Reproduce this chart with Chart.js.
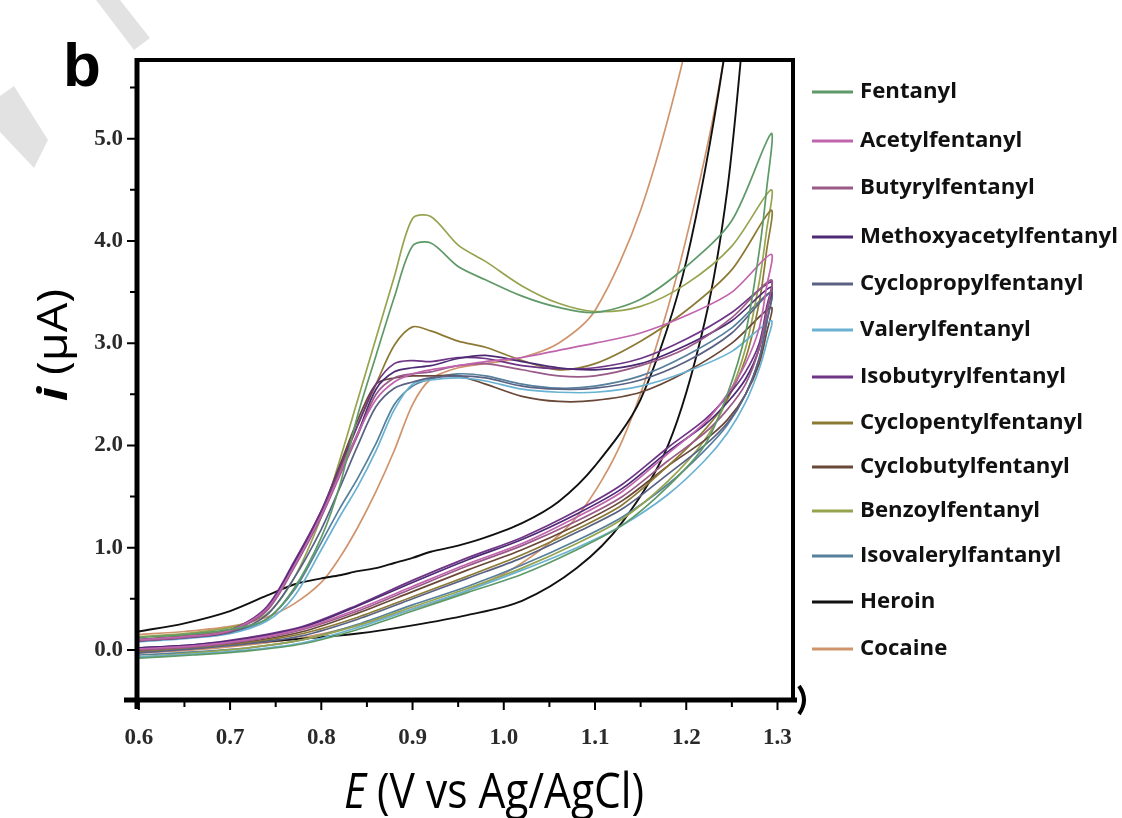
<!DOCTYPE html>
<html>
<head>
<meta charset="utf-8">
<script src="https://cdn.jsdelivr.net/npm/chart.js@4/dist/chart.umd.min.js"></script>
<style>
  html, body { margin: 0; padding: 0; background: #fff; }
  #caja { width: 1122px; height: 818px; }
</style>
</head>
<body>
<div id="caja"><canvas id="graficaCV" width="1122" height="818"></canvas></div>
<script>
// Potenciales (V vs Ag/AgCl) del barrido de ida y de vuelta
const potencialIda = [0.6, 0.65, 0.7, 0.74, 0.77, 0.8, 0.82, 0.84, 0.86, 0.88, 0.9, 0.92, 0.95, 0.98, 1.02, 1.06, 1.1, 1.15, 1.2, 1.25, 1.293];
const potencialVuelta = [1.288, 1.28, 1.265, 1.245, 1.22, 1.18, 1.13, 1.08, 1.02, 0.96, 0.9, 0.84, 0.78, 0.72, 0.66, 0.6];

// Corrientes (µA)
const fentanilIda = [0.12, 0.15, 0.2, 0.3, 0.6, 1.1, 1.6, 2.3, 2.88, 3.45, 3.95, 3.98, 3.75, 3.62, 3.46, 3.35, 3.3, 3.43, 3.75, 4.2, 5.05];
const fentanilVuelta = [4.5, 3.9, 3.1, 2.5, 2.0, 1.6, 1.22, 0.98, 0.74, 0.56, 0.38, 0.2, 0.06, -0.01, -0.05, -0.08];
const acetilIda = [0.1, 0.13, 0.19, 0.4, 0.82, 1.32, 1.72, 2.12, 2.45, 2.62, 2.7, 2.74, 2.78, 2.82, 2.86, 2.93, 3.0, 3.1, 3.27, 3.5, 3.87];
const acetilVuelta = [3.55, 3.15, 2.8, 2.5, 2.22, 1.92, 1.55, 1.3, 1.04, 0.84, 0.62, 0.4, 0.21, 0.1, 0.04, 0.01];
const butirilIda = [0.09, 0.12, 0.18, 0.38, 0.8, 1.3, 1.7, 2.1, 2.5, 2.66, 2.7, 2.72, 2.78, 2.8, 2.74, 2.68, 2.68, 2.78, 2.95, 3.25, 3.62];
const butirilVuelta = [3.3, 2.95, 2.6, 2.35, 2.12, 1.85, 1.5, 1.26, 1.02, 0.82, 0.6, 0.38, 0.2, 0.09, 0.03, 0.0];
const metoxiIda = [0.09, 0.12, 0.18, 0.4, 0.84, 1.33, 1.72, 2.12, 2.55, 2.72, 2.76, 2.78, 2.85, 2.88, 2.82, 2.76, 2.74, 2.8, 2.98, 3.22, 3.55];
const metoxiVuelta = [3.3, 2.95, 2.65, 2.42, 2.2, 1.94, 1.58, 1.33, 1.08, 0.88, 0.66, 0.43, 0.22, 0.11, 0.05, 0.02];
const ciclopropilIda = [0.09, 0.12, 0.17, 0.34, 0.7, 1.18, 1.58, 2.0, 2.38, 2.56, 2.62, 2.66, 2.68, 2.66, 2.58, 2.55, 2.56, 2.64, 2.82, 3.1, 3.5];
const ciclopropilVuelta = [3.2, 2.85, 2.5, 2.22, 2.0, 1.72, 1.38, 1.15, 0.9, 0.7, 0.5, 0.3, 0.14, 0.06, 0.01, -0.03];
const valerilIda = [0.08, 0.11, 0.16, 0.28, 0.52, 0.98, 1.3, 1.6, 1.95, 2.35, 2.6, 2.64, 2.66, 2.63, 2.55, 2.52, 2.52, 2.58, 2.72, 2.92, 3.22];
const valerilVuelta = [3.0, 2.75, 2.42, 2.12, 1.85, 1.52, 1.22, 1.0, 0.78, 0.58, 0.4, 0.22, 0.07, 0.0, -0.04, -0.07];
const isobutirilIda = [0.1, 0.13, 0.19, 0.42, 0.86, 1.36, 1.78, 2.2, 2.6, 2.8, 2.83, 2.82, 2.86, 2.85, 2.78, 2.75, 2.76, 2.85, 3.04, 3.3, 3.6];
const isobutirilVuelta = [3.35, 3.0, 2.72, 2.48, 2.25, 1.98, 1.62, 1.36, 1.1, 0.9, 0.68, 0.44, 0.23, 0.12, 0.05, 0.02];
const ciclopentilIda = [0.1, 0.14, 0.2, 0.4, 0.85, 1.35, 1.75, 2.2, 2.6, 2.98, 3.16, 3.12, 3.02, 2.96, 2.83, 2.74, 2.8, 3.02, 3.32, 3.72, 4.3];
const ciclopentilVuelta = [3.9, 3.4, 2.85, 2.45, 2.15, 1.8, 1.42, 1.18, 0.93, 0.72, 0.52, 0.32, 0.16, 0.07, 0.02, -0.02];
const ciclobutilIda = [0.1, 0.13, 0.19, 0.4, 0.84, 1.36, 1.8, 2.25, 2.6, 2.66, 2.68, 2.68, 2.68, 2.6, 2.48, 2.43, 2.44, 2.52, 2.72, 3.0, 3.35];
const ciclobutilVuelta = [3.1, 2.8, 2.5, 2.25, 2.05, 1.8, 1.46, 1.22, 0.98, 0.78, 0.57, 0.36, 0.18, 0.08, 0.03, -0.01];
const benzoilIda = [0.13, 0.16, 0.22, 0.35, 0.7, 1.3, 1.85, 2.45, 3.05, 3.65, 4.22, 4.24, 3.96, 3.8, 3.56, 3.39, 3.31, 3.36, 3.58, 3.95, 4.5];
const benzoilVuelta = [4.1, 3.6, 2.95, 2.45, 2.05, 1.65, 1.28, 1.04, 0.8, 0.6, 0.42, 0.24, 0.1, 0.02, -0.03, -0.07];
const isovalerilIda = [0.09, 0.12, 0.17, 0.3, 0.58, 1.05, 1.38, 1.68, 2.02, 2.4, 2.58, 2.65, 2.7, 2.68, 2.6, 2.56, 2.58, 2.68, 2.88, 3.15, 3.5];
const isovalerilVuelta = [3.2, 2.85, 2.5, 2.2, 1.95, 1.62, 1.3, 1.07, 0.83, 0.62, 0.44, 0.25, 0.1, 0.02, -0.02, -0.05];
const heroinaIda = [0.18, 0.26, 0.38, 0.53, 0.64, 0.7, 0.73, 0.77, 0.8, 0.85, 0.9, 0.96, 1.02, 1.1, 1.24, 1.45, 1.8, 2.45, 3.8, 6.3, 9.5];
const heroinaVuelta = [9.2, 8.0, 6.3, 4.5, 3.2, 2.0, 1.25, 0.8, 0.48, 0.34, 0.24, 0.16, 0.11, 0.07, 0.04, 0.02];
const cocainaIda = [0.15, 0.18, 0.23, 0.32, 0.45, 0.66, 0.9, 1.2, 1.55, 1.95, 2.4, 2.65, 2.76, 2.8, 2.86, 3.0, 3.32, 4.3, 5.9, 8.0, 10];
const cocainaVuelta = [9.8, 9.0, 7.5, 6.0, 4.8, 3.35, 2.05, 1.3, 0.85, 0.58, 0.4, 0.24, 0.12, 0.05, 0.0, -0.03];

const nombres = ['Fentanyl', 'Acetylfentanyl', 'Butyrylfentanyl', 'Methoxyacetylfentanyl', 'Cyclopropylfentanyl',
  'Valerylfentanyl', 'Isobutyrylfentanyl', 'Cyclopentylfentanyl', 'Cyclobutylfentanyl', 'Benzoylfentanyl',
  'Isovalerylfantanyl', 'Heroin', 'Cocaine'];
const ramasIda = [fentanilIda, acetilIda, butirilIda, metoxiIda, ciclopropilIda, valerilIda, isobutirilIda,
  ciclopentilIda, ciclobutilIda, benzoilIda, isovalerilIda, heroinaIda, cocainaIda];
const ramasVuelta = [fentanilVuelta, acetilVuelta, butirilVuelta, metoxiVuelta, ciclopropilVuelta, valerilVuelta,
  isobutirilVuelta, ciclopentilVuelta, ciclobutilVuelta, benzoilVuelta, isovalerilVuelta, heroinaVuelta, cocainaVuelta];

const ticksX = [0.6, 0.7, 0.8, 0.9, 1.0, 1.1, 1.2, 1.3];
const ticksY = [0, 1, 2, 3, 4, 5];

const colores = ['#5e9a68', '#c064ae', '#9a5a88', '#4e2a74', '#5a6284', '#6ab2d2', '#6e3486',
  '#8c7a34', '#6a4838', '#96a450', '#56809c', '#111111', '#d0946c'];

function crearDatasets() {
  return nombres.map((nombre, i) => ({
    label: nombre,
    data: potencialIda.map((e, k) => ({ x: e, y: ramasIda[i][k] }))
      .concat(potencialVuelta.map((e, k) => ({ x: e, y: ramasVuelta[i][k] }))),
    borderColor: colores[i],
    backgroundColor: colores[i],
    borderWidth: i === 11 ? 1.9 : 1.7,
    showLine: true,
    fill: false
  }));
}

// escribe un texto con partes en cursiva, ajustado a un ancho
function textoMixto(ctx, partes, x, y, ancho) {
  let total = 0;
  partes.forEach(p => { ctx.font = p.f; total += ctx.measureText(p.t).width; });
  const sx = ancho / total;
  ctx.save();
  ctx.translate(x - ancho / 2, y);
  ctx.scale(sx, 1);
  let pos = 0;
  partes.forEach(p => {
    ctx.font = p.f;
    ctx.fillText(p.t, pos, 0);
    pos += ctx.measureText(p.t).width;
  });
  ctx.restore();
}

const marco = {
  id: 'marco',
  beforeDraw(chart) {
    const ctx = chart.ctx;
    ctx.save();
    // marca de agua gris
    ctx.fillStyle = '#e2e2e2';
    ctx.beginPath();
    ctx.moveTo(96, 0); ctx.lineTo(120, 0); ctx.lineTo(150, 38); ctx.lineTo(134, 50); ctx.closePath();
    ctx.fill();
    ctx.beginPath();
    ctx.moveTo(0, 96); ctx.lineTo(14, 86); ctx.lineTo(48, 140); ctx.lineTo(34, 168); ctx.lineTo(0, 132); ctx.closePath();
    ctx.fill();
    ctx.restore();
  },
  afterDraw(chart) {
    const { ctx, chartArea: a, scales: { x, y } } = chart;
    ctx.save();
    ctx.strokeStyle = '#000';
    ctx.lineWidth = 4;
    ctx.strokeRect(a.left, a.top, a.right - a.left, a.bottom - a.top);
    ctx.lineWidth = 5;
    ctx.beginPath();
    ctx.moveTo(a.left - 13, a.bottom); ctx.lineTo(a.right + 4, a.bottom);
    ctx.moveTo(a.left, a.top - 2); ctx.lineTo(a.left, a.bottom + 9);
    ctx.stroke();

    // marcas del eje x (cada 0.05) y del eje y (cada 0.5)
    ctx.lineWidth = 2;
    ctx.beginPath();
    for (let k = 0; k <= 14; k++) {
      const px = x.getPixelForValue(0.6 + k * 0.05);
      ctx.moveTo(px, a.bottom); ctx.lineTo(px, a.bottom + (k % 2 === 0 ? 10 : 7));
    }
    for (let k = 0; k <= 11; k++) {
      const py = y.getPixelForValue(k * 0.5);
      ctx.moveTo(a.left, py); ctx.lineTo(a.left - (k % 2 === 0 ? 10 : 7), py);
    }
    ctx.stroke();

    // adorno al final del eje x
    ctx.lineWidth = 4;
    ctx.beginPath();
    ctx.moveTo(a.right + 6, a.bottom - 14);
    ctx.quadraticCurveTo(a.right + 16, a.bottom, a.right + 6, a.bottom + 14);
    ctx.stroke();

    // letra del panel
    ctx.fillStyle = '#000';
    ctx.font = 'bold 62px "Liberation Sans"';
    ctx.textBaseline = 'alphabetic';
    ctx.fillText('b', 63, 86);

    // títulos de los ejes
    textoMixto(ctx, [{ t: 'E', f: 'italic 50px "Open Sans"' }, { t: ' (V vs Ag/AgCl)', f: '50px "Open Sans"' }],
      494, 808, 300);
    ctx.save();
    ctx.translate(67, 345);
    ctx.rotate(-Math.PI / 2);
    textoMixto(ctx, [{ t: 'i', f: 'italic bold 42px "Open Sans"' }, { t: ' (µA)', f: '42px "Open Sans"' }],
      0, 0, 112);
    ctx.restore();

    // leyenda
    const yLeyenda = [92, 141, 188, 237, 284, 330, 377, 423, 467, 511, 556, 602, 649];
    ctx.font = 'bold 21px "Open Sans"';
    const escala = 258 / ctx.measureText('Methoxyacetylfentanyl').width;
    ctx.textBaseline = 'middle';
    chart.data.datasets.forEach((ds, i) => {
      ctx.strokeStyle = ds.borderColor;
      ctx.lineWidth = 3;
      ctx.beginPath();
      ctx.moveTo(812, yLeyenda[i]); ctx.lineTo(853, yLeyenda[i]);
      ctx.stroke();
      ctx.save();
      ctx.translate(860, yLeyenda[i]);
      ctx.scale(escala, 1);
      ctx.fillStyle = '#111';
      ctx.fillText(ds.label, 0, 0);
      ctx.restore();
    });
    ctx.restore();
  }
};

function crearGraficoCV() {
  const ctx = document.getElementById('graficaCV').getContext('2d');
  return new Chart(ctx, {
    type: 'scatter',
    data: { datasets: crearDatasets() },
    options: {
      responsive: false,
      animation: false,
      layout: { padding: { left: 0, right: 329, top: 60, bottom: 0 } },
      elements: { point: { radius: 0 }, line: { tension: 0.3 } },
      plugins: { legend: { display: false }, tooltip: { enabled: false } },
      scales: {
        x: {
          type: 'linear',
          min: 0.598,
          max: 1.317,
          border: { display: false },
          grid: { display: false, drawTicks: false },
          afterBuildTicks: axis => { axis.ticks = ticksX.map(v => ({ value: v })); },
          afterFit: axis => { axis.height = 118; },
          ticks: {
            padding: 24,
            color: '#2a2a2a',
            font: { family: '"Liberation Serif"', weight: 'bold', size: 23 },
            callback: v => v.toFixed(1)
          }
        },
        y: {
          type: 'linear',
          min: -0.49,
          max: 5.77,
          border: { display: false },
          grid: { display: false, drawTicks: false },
          afterBuildTicks: axis => { axis.ticks = ticksY.map(v => ({ value: v })); },
          afterFit: axis => { axis.width = 137; },
          ticks: {
            padding: 14,
            color: '#2a2a2a',
            font: { family: '"Liberation Serif"', weight: 'bold', size: 23 },
            callback: v => v.toFixed(1)
          }
        }
      }
    },
    plugins: [marco]
  });
}

crearGraficoCV();
</script>
</body>
</html>
